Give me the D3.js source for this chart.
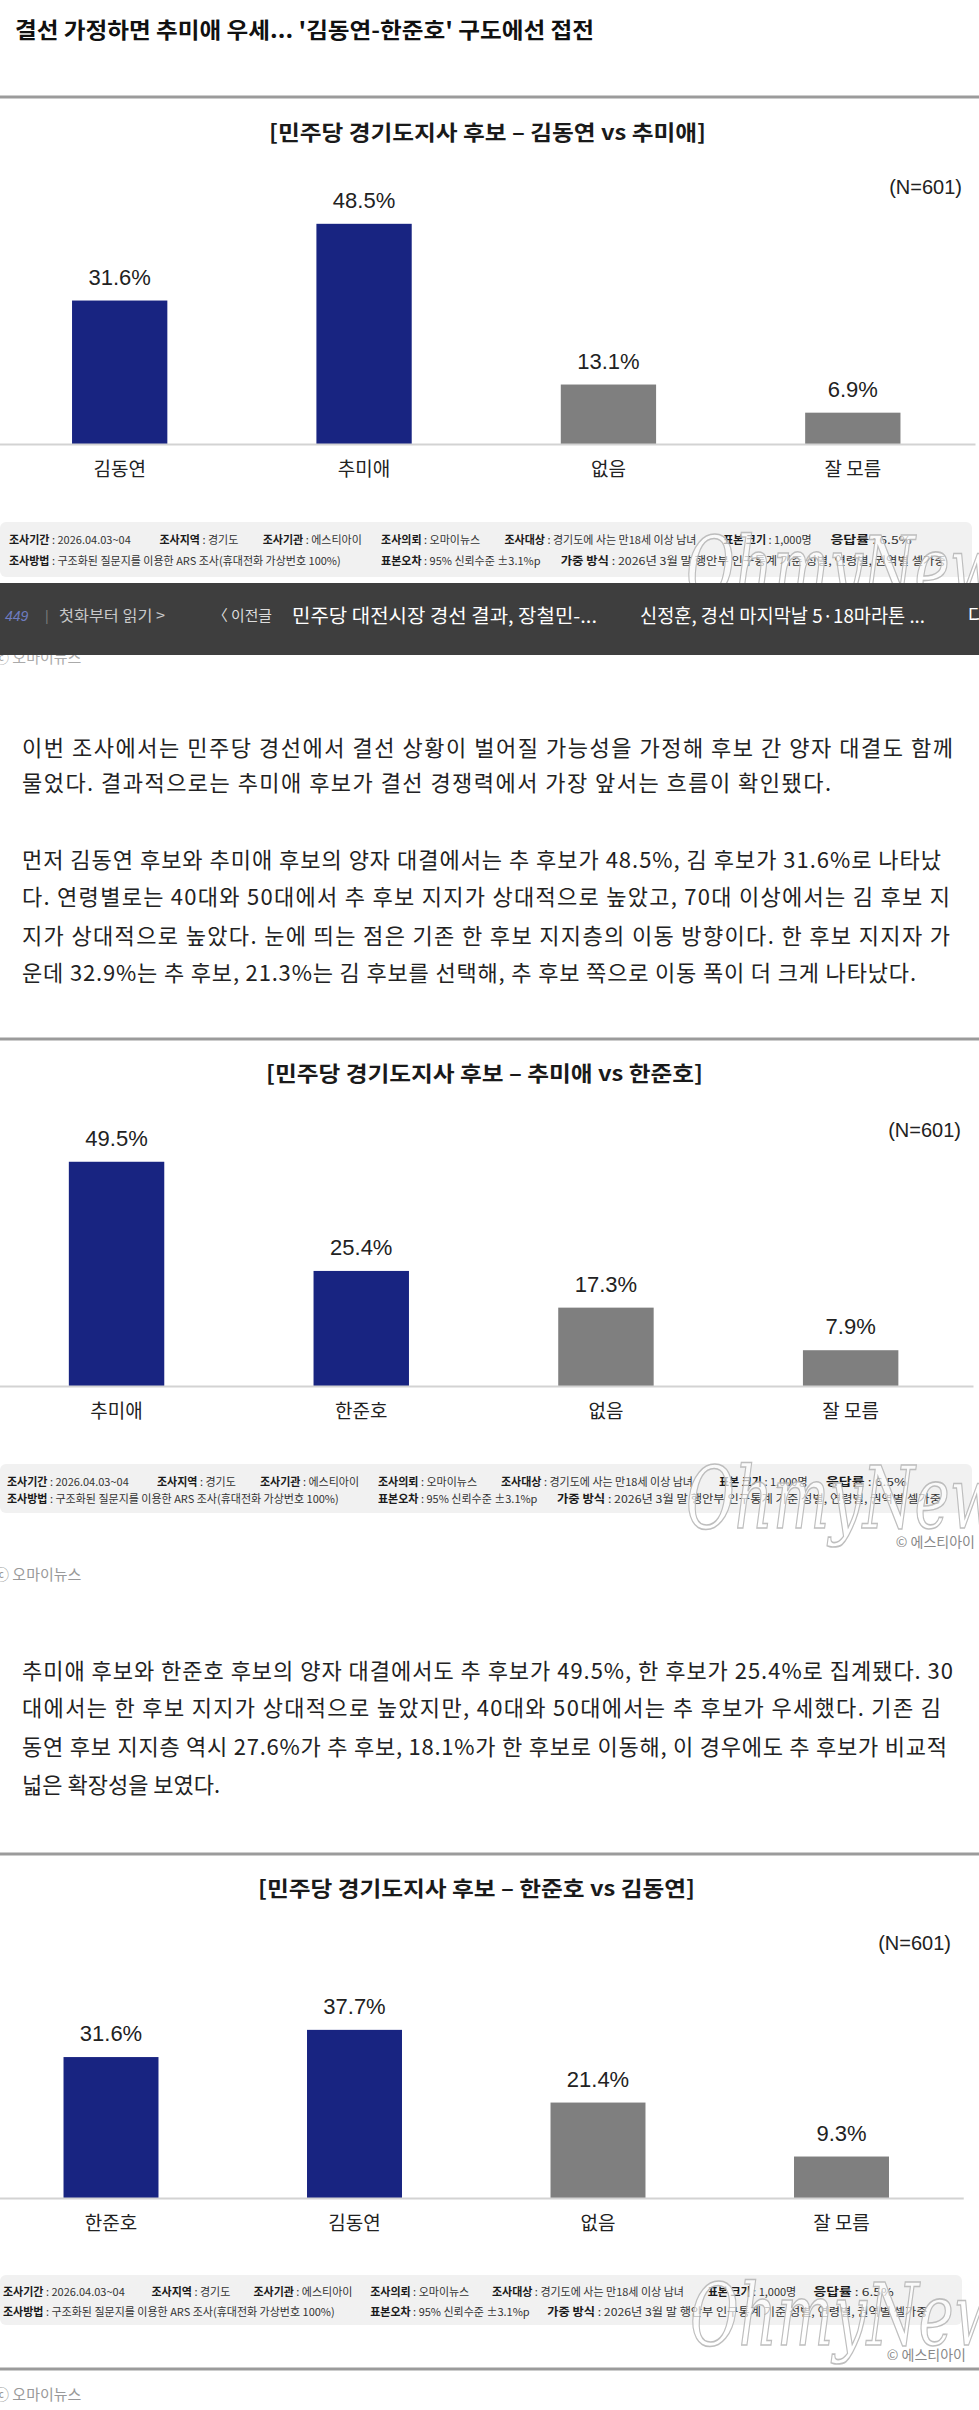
<!DOCTYPE html>
<html><head><meta charset="utf-8">
<script src="https://cdn.jsdelivr.net/npm/d3@7"></script>
<style>
html,body{margin:0;padding:0;background:#fff;}
svg{display:block;}
</style>
</head><body>
<svg id="page" width="979" height="2410"></svg>
<script>
// ---------------- data ----------------
const headline = "결선 가정하면 추미애 우세... '김동연-한준호' 구도에선 접전";

const chart1Title = "[민주당 경기도지사 후보 – 김동연 vs 추미애]";
const chart1Categories = ["김동연", "추미애", "없음", "잘 모름"];
const chart1Values = [31.6, 48.5, 13.1, 6.9];

const chart2Title = "[민주당 경기도지사 후보 – 추미애 vs 한준호]";
const chart2Categories = ["추미애", "한준호", "없음", "잘 모름"];
const chart2Values = [49.5, 25.4, 17.3, 7.9];

const chart3Title = "[민주당 경기도지사 후보 – 한준호 vs 김동연]";
const chart3Categories = ["한준호", "김동연", "없음", "잘 모름"];
const chart3Values = [31.6, 37.7, 21.4, 9.3];

const candidateCount = 2;           // first two categories are candidates
const sampleLabel = "(N=601)";
const yDomain = [0, 100];

const surveyLine1 = [["조사기간", "2026.04.03~04"], ["조사지역", "경기도"], ["조사기관", "에스티아이"], ["조사의뢰", "오마이뉴스"], ["조사대상", "경기도에 사는 만18세 이상 남녀"], ["표본 크기", "1,000명"], ["응답률", "6.5%"]];
const surveyLine2 = [["조사방법", "구조화된 질문지를 이용한 ARS 조사(휴대전화 가상번호 100%)"], ["표본오차", "95% 신뢰수준 ±3.1%p"], ["가중 방식", "2026년 3월 말 행안부 인구통계 기준 성별, 연령별, 권역별 셀가중"]];
const sourceCredit = "© 에스티아이";
const photoCredit = "ⓒ 오마이뉴스";
const watermark = "OhmyNews";

const navCount = "449";
const navSeries = "첫화부터 읽기 >";
const navPrevLabel = "〈 이전글";
const navPrevTitle = "민주당 대전시장 경선 결과, 장철민-...";
const navNextTitle = "신정훈, 경선 마지막날 5·18마라톤 ...";
const navNextLabel = "다";

const paragraph1 = [
  "이번 조사에서는 민주당 경선에서 결선 상황이 벌어질 가능성을 가정해 후보 간 양자 대결도 함께",
  "물었다. 결과적으로는 추미애 후보가 결선 경쟁력에서 가장 앞서는 흐름이 확인됐다."
];
const paragraph2 = [
  "먼저 김동연 후보와 추미애 후보의 양자 대결에서는 추 후보가 48.5%, 김 후보가 31.6%로 나타났",
  "다. 연령별로는 40대와 50대에서 추 후보 지지가 상대적으로 높았고, 70대 이상에서는 김 후보 지",
  "지가 상대적으로 높았다. 눈에 띄는 점은 기존 한 후보 지지층의 이동 방향이다. 한 후보 지지자 가",
  "운데 32.9%는 추 후보, 21.3%는 김 후보를 선택해, 추 후보 쪽으로 이동 폭이 더 크게 나타났다."
];
const paragraph3 = [
  "추미애 후보와 한준호 후보의 양자 대결에서도 추 후보가 49.5%, 한 후보가 25.4%로 집계됐다. 30",
  "대에서는 한 후보 지지가 상대적으로 높았지만, 40대와 50대에서는 추 후보가 우세했다. 기존 김",
  "동연 후보 지지층 역시 27.6%가 추 후보, 18.1%가 한 후보로 이동해, 이 경우에도 추 후보가 비교적",
  "넓은 확장성을 보였다."
];

// ---------------- styles ----------------
const KR = "'Noto Sans CJK KR', 'Noto Sans', sans-serif";
const NUM = "'Liberation Sans', Arial, 'Noto Sans CJK KR', sans-serif";
const NAVY = "#182481";
const GREY = "#7f7f7f";
const TEXT = "#222";

const svg = d3.select("#page");
svg.append("rect").attr("width", 979).attr("height", 2410).attr("fill", "#fff");

// headline
svg.append("text").attr("x", 15).attr("y", 38)
  .attr("font-family", KR).attr("font-size", 22).attr("font-weight", 600)
  .attr("fill", "#111").attr("textLength", 579).attr("lengthAdjust", "spacingAndGlyphs")
  .text(headline);

function separator(y) {
  svg.append("rect").attr("x", 0).attr("y", y - 1.5).attr("width", 979).attr("height", 3).attr("fill", "#9b9b9b");
}

function paragraph(lines, x, baselines, widths) {
  lines.forEach((line, i) => {
    const t = svg.append("text").attr("x", x).attr("y", baselines[i])
      .attr("font-family", KR).attr("font-size", 22).attr("fill", TEXT).text(line);
    if (widths[i]) t.attr("textLength", widths[i]).attr("lengthAdjust", "spacing");
  });
}

function watermarkText(x, y) {
  svg.append("text").attr("x", x).attr("y", y)
    .attr("font-family", "'DejaVu Serif', serif").attr("font-style", "italic")
    .attr("font-size", 86).attr("fill", "rgba(255,255,255,0.75)")
    .attr("stroke", "#b8b8b8").attr("stroke-width", 1.6)
    .attr("opacity", 0.9)
    .attr("textLength", 345).attr("lengthAdjust", "spacingAndGlyphs")
    .text(watermark);
}

function surveyBox(cfg) {
  svg.append("rect").attr("x", 0).attr("y", cfg.boxY).attr("width", cfg.boxW).attr("height", cfg.boxH)
    .attr("rx", 6).attr("fill", "#f1f1f1");
  // item start positions (reference layout) and line end positions
  const line1X = [7, 157, 260, 378, 501, 719, 826], line1End = 907;
  const line2X = [7, 378, 557], line2End = 941;
  const sx = v => cfg.x0 + (v - 7) * cfg.k;
  const put = (items, xs, end, y) => items.forEach((it, i) => {
    const start = sx(xs[i]);
    const t = svg.append("text").attr("x", start).attr("y", y)
      .attr("font-family", KR).attr("font-size", 11).attr("fill", "#333");
    t.append("tspan").attr("font-weight", 700).attr("fill", "#1a1a1a").text(it[0]);
    t.append("tspan").text(" : " + it[1]);
    const natural = t.node().getComputedTextLength();
    const limit = i < items.length - 1 ? sx(xs[i + 1]) - start - 10 : sx(end) - start;
    if (i === items.length - 1 || natural > limit) {
      t.attr("textLength", limit).attr("lengthAdjust", "spacingAndGlyphs");
    }
  });
  put(surveyLine1, line1X, line1End, cfg.line1Y);
  put(surveyLine2, line2X, line2End, cfg.line2Y);
}

function drawChart(cfg) {
  const g = svg.append("g");
  g.append("text").attr("x", cfg.titleX).attr("y", cfg.titleY).attr("text-anchor", "middle")
    .attr("font-family", KR).attr("font-size", 21).attr("font-weight", 700).attr("fill", "#1a1a1a")
    .attr("textLength", 437).attr("lengthAdjust", "spacingAndGlyphs")
    .text(cfg.title);
  g.append("text").attr("x", cfg.nX).attr("y", cfg.nY).attr("text-anchor", "end")
    .attr("font-family", NUM).attr("font-size", 20).attr("fill", TEXT).text(sampleLabel);

  const x = d3.scaleBand().domain(cfg.categories).range(cfg.xRange).paddingInner(0.61).paddingOuter(0.305);
  const y = d3.scaleLinear().domain(yDomain).range([cfg.baseY, cfg.baseY - (yDomain[1] - yDomain[0]) * cfg.pxPerUnit]);
  const data = cfg.categories.map((c, i) => ({ c, v: cfg.values[i], i }));

  g.selectAll("rect.bar").data(data).join("rect").attr("class", "bar")
    .attr("x", d => x(d.c)).attr("width", x.bandwidth())
    .attr("y", d => y(d.v)).attr("height", d => y(0) - y(d.v))
    .attr("fill", d => d.i < candidateCount ? NAVY : GREY);

  g.selectAll("text.val").data(data).join("text").attr("class", "val")
    .attr("x", d => x(d.c) + x.bandwidth() / 2).attr("y", d => y(d.v) - 16)
    .attr("text-anchor", "middle").attr("font-family", NUM).attr("font-size", 22).attr("fill", TEXT)
    .text(d => d.v.toFixed(1) + "%");

  const ax = g.append("g").attr("transform", `translate(0,${cfg.baseY})`)
    .call(d3.axisBottom(x).tickSize(0).tickSizeOuter(0).tickPadding(19));
  ax.select(".domain").attr("stroke", "#d3d3d3").attr("stroke-width", 2);
  ax.selectAll("text").attr("font-family", KR).attr("font-size", 19).attr("fill", TEXT);
}

// ---------------- chart 1 ----------------
separator(97);
drawChart({ title: chart1Title, categories: chart1Categories, values: chart1Values,
  titleX: 487.5, titleY: 140, nX: 962, nY: 194,
  xRange: [-2.5, 975], baseY: 444, pxPerUnit: 4.54 });
surveyBox({ boxY: 522, boxH: 55, boxW: 972, x0: 9, k: 1.003, line1Y: 543.5, line2Y: 565 });
watermarkText(686, 598);

// faint caption partly hidden behind nav bar
svg.append("text").attr("x", -6).attr("y", 663).attr("font-family", KR).attr("font-size", 15).attr("fill", "#aaa").text(photoCredit);

// nav bar
svg.append("rect").attr("x", 0).attr("y", 583).attr("width", 979).attr("height", 72).attr("fill", "#3e3e3e");
svg.append("text").attr("x", 5).attr("y", 621).attr("font-family", NUM).attr("font-style", "italic").attr("font-size", 14).attr("fill", "#6e7cc0").text(navCount);
svg.append("text").attr("x", 45).attr("y", 621).attr("font-family", NUM).attr("font-size", 14).attr("fill", "#777").text("|");
svg.append("text").attr("x", 59).attr("y", 621).attr("font-family", KR).attr("font-size", 15).attr("fill", "#c9c9c9")
  .attr("textLength", 106).attr("lengthAdjust", "spacingAndGlyphs").text(navSeries);
svg.append("text").attr("x", 213).attr("y", 621).attr("font-family", KR).attr("font-size", 15).attr("fill", "#dcdcdc")
  .attr("textLength", 59).attr("lengthAdjust", "spacingAndGlyphs").text(navPrevLabel);
svg.append("text").attr("x", 292).attr("y", 623).attr("font-family", KR).attr("font-size", 19).attr("fill", "#fff")
  .attr("textLength", 305).attr("lengthAdjust", "spacingAndGlyphs").text(navPrevTitle);
svg.append("text").attr("x", 640).attr("y", 623).attr("font-family", KR).attr("font-size", 19).attr("fill", "#fff")
  .attr("textLength", 285).attr("lengthAdjust", "spacingAndGlyphs").text(navNextTitle);
svg.append("text").attr("x", 968).attr("y", 623).attr("font-family", KR).attr("font-size", 19).attr("fill", "#fff").text(navNextLabel);

// paragraphs 1, 2
paragraph(paragraph1, 22, [756, 791], [931, 809]);
paragraph(paragraph2, 22, [868, 905, 944, 981], [919, 928, 928, 894]);

// ---------------- chart 2 ----------------
separator(1039);
drawChart({ title: chart2Title, categories: chart2Categories, values: chart2Values,
  titleX: 484.5, titleY: 1081, nX: 961, nY: 1137,
  xRange: [-5.8, 973], baseY: 1386, pxPerUnit: 4.53 });
surveyBox({ boxY: 1464, boxH: 49, boxW: 972, x0: 7, k: 1, line1Y: 1486, line2Y: 1503 });
watermarkText(686, 1528);
svg.append("text").attr("x", 975).attr("y", 1547).attr("text-anchor", "end").attr("font-family", KR).attr("font-size", 14).attr("fill", "#888").text(sourceCredit);
svg.append("text").attr("x", -6).attr("y", 1580).attr("font-family", KR).attr("font-size", 15).attr("fill", "#999").text(photoCredit);

// paragraph 3
paragraph(paragraph3, 22, [1679, 1716, 1755, 1793], [931, 919, 925, null]);

// ---------------- chart 3 ----------------
separator(1854);
drawChart({ title: chart3Title, categories: chart3Categories, values: chart3Values,
  titleX: 476.5, titleY: 1896, nX: 951, nY: 1950,
  xRange: [-10.75, 963.25], baseY: 2198, pxPerUnit: 4.46 });
surveyBox({ boxY: 2275, boxH: 50, boxW: 962, x0: 3, k: 0.9897, line1Y: 2296, line2Y: 2315.5 });
watermarkText(690, 2345);
svg.append("text").attr("x", 966).attr("y", 2360).attr("text-anchor", "end").attr("font-family", KR).attr("font-size", 14).attr("fill", "#888").text(sourceCredit);
separator(2369);
svg.append("text").attr("x", -6).attr("y", 2400).attr("font-family", KR).attr("font-size", 15).attr("fill", "#999").text(photoCredit);
</script>
</body></html>
